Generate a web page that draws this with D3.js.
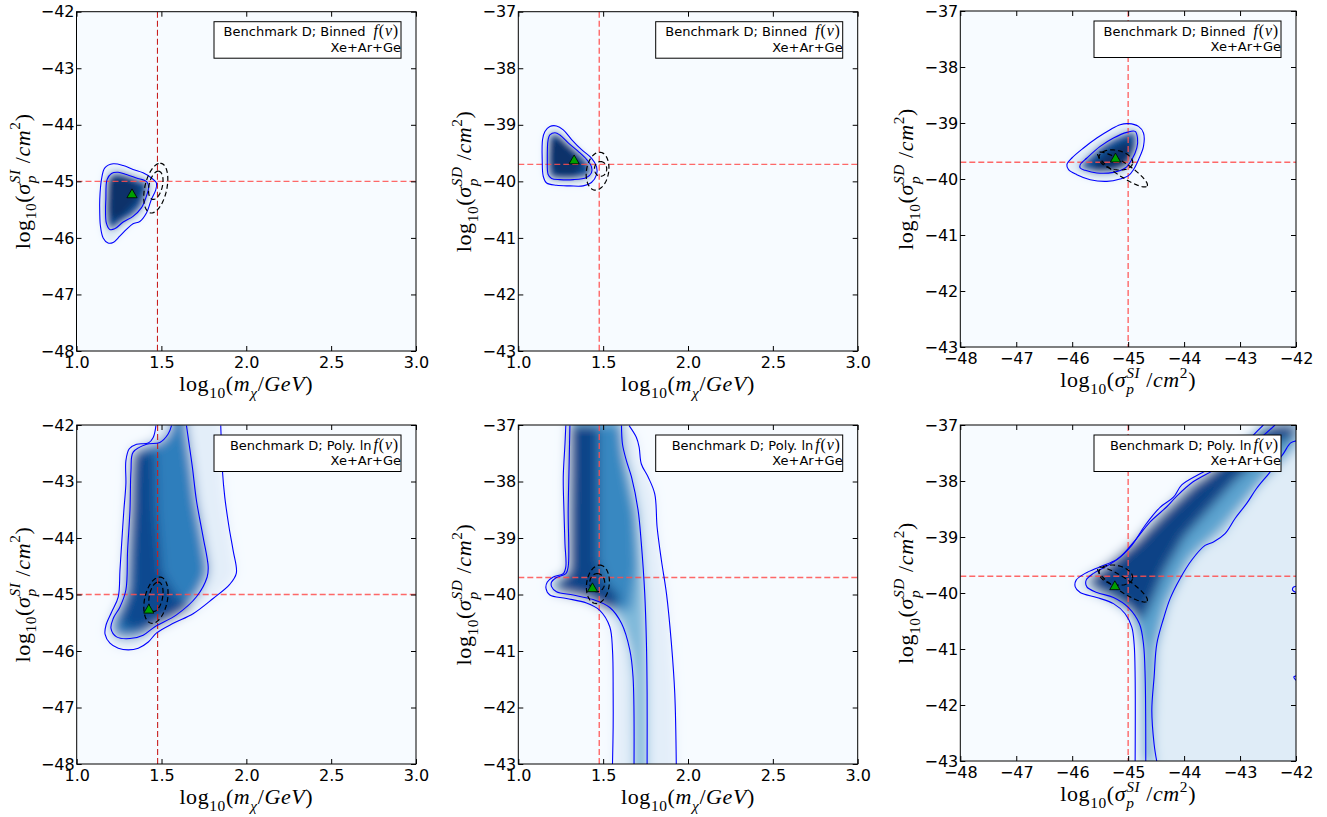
<!DOCTYPE html>
<html><head><meta charset="utf-8">
<script src="https://cdn.jsdelivr.net/npm/d3@7"></script>
<style>body{margin:0;background:#fff}svg{display:block}</style>
</head><body>
<svg id="c" width="1327" height="817"></svg>
<script>
// ---------------- data ----------------
const massTicks = [1.0, 1.5, 2.0, 2.5, 3.0];
const siTicks = [-48, -47, -46, -45, -44, -43, -42];
const sdTicks = [-43, -42, -41, -40, -39, -38, -37];
const trueMass = 1.477, trueSI = -45, trueSD = -39.7;
const legendTitles = ["Benchmark D; Binned", "Benchmark D; Poly. ln"];
const legendTargets = "Xe+Ar+Ge";

// Panel 1 (mass vs SI, binned)
const p1Outer = [[1.137,-45.32],[1.147,-44.97],[1.167,-44.76],[1.216,-44.69],[1.275,-44.72],[1.333,-44.79],[1.392,-44.85],[1.441,-44.94],[1.471,-45.03],[1.467,-45.15],[1.441,-45.32],[1.412,-45.56],[1.373,-45.71],[1.333,-45.75],[1.294,-45.85],[1.255,-45.97],[1.216,-46.08],[1.186,-46.09],[1.157,-46.0],[1.141,-45.79],[1.137,-45.56]];
const p1Inner = [[1.173,-45.32],[1.18,-44.97],[1.206,-44.86],[1.245,-44.84],[1.294,-44.88],[1.353,-44.94],[1.412,-45.0],[1.425,-45.09],[1.412,-45.26],[1.382,-45.47],[1.333,-45.62],[1.275,-45.72],[1.225,-45.84],[1.196,-45.85],[1.176,-45.74],[1.171,-45.5]];
const p1Core = [[1.19,-44.95],[1.3,-44.93],[1.38,-45.1],[1.36,-45.35],[1.28,-45.6],[1.21,-45.72],[1.19,-45.5]];
const p1Ellipses = [[1.467,-45.12,0.026,0.44,0.066,0],[1.467,-45.07,0.015,0.25,0.04,0]];
const p1Best = [1.327,-45.22];

// Panel 2 (mass vs SD, binned)
const p2Outer = [[1.143,-39.26],[1.157,-39.12],[1.186,-39.03],[1.225,-39.02],[1.265,-39.09],[1.314,-39.26],[1.373,-39.44],[1.431,-39.59],[1.461,-39.74],[1.461,-39.88],[1.431,-40.02],[1.382,-40.08],[1.304,-40.08],[1.225,-40.07],[1.167,-40.03],[1.147,-39.91],[1.141,-39.62]];
const p2Inner = [[1.176,-39.26],[1.186,-39.18],[1.216,-39.14],[1.245,-39.18],[1.294,-39.32],[1.353,-39.47],[1.402,-39.61],[1.431,-39.74],[1.431,-39.85],[1.402,-39.93],[1.324,-39.97],[1.245,-39.97],[1.196,-39.95],[1.176,-39.88],[1.171,-39.62]];
const p2Core = [[1.19,-39.28],[1.24,-39.24],[1.33,-39.5],[1.39,-39.75],[1.33,-39.9],[1.22,-39.9],[1.19,-39.7]];
const p2Ellipses = [[1.467,-39.82,0.012,0.335,0.066,0],[1.485,-39.78,0.0,0.13,0.036,0]];
const p2Best = [1.329,-39.62];

// Panel 3 (SI vs SD, binned)
const p3Outer = [[-46.095,-39.744],[-46.006,-39.625],[-45.798,-39.446],[-45.56,-39.268],[-45.321,-39.119],[-45.143,-39.03],[-44.994,-39.012],[-44.815,-39.06],[-44.726,-39.179],[-44.726,-39.417],[-44.815,-39.655],[-44.905,-39.833],[-44.994,-39.94],[-45.143,-40.0],[-45.381,-40.042],[-45.679,-40.012],[-45.917,-39.923],[-46.065,-39.833]];
const p3Inner = [[-45.857,-39.744],[-45.738,-39.625],[-45.5,-39.417],[-45.262,-39.268],[-45.024,-39.167],[-44.875,-39.149],[-44.833,-39.268],[-44.845,-39.446],[-44.935,-39.655],[-45.054,-39.804],[-45.262,-39.881],[-45.56,-39.893],[-45.768,-39.845],[-45.857,-39.804]];
const p3Core = [[-45.65,-39.75],[-45.3,-39.45],[-45.0,-39.3],[-44.92,-39.4],[-45.0,-39.7],[-45.25,-39.83],[-45.6,-39.83]];
const p3Ellipses = [[-45.1,-39.83,0.44,-0.295,0.067,0.1],[-45.22,-39.66,0.3,-0.06,0.03,0.17]];
const p3Best = [-45.226,-39.625];

// Panel 4 (mass vs SI, poly ln)
const p4Outer = [[1.467,-42.01],[1.451,-42.22],[1.422,-42.32],[1.353,-42.34],[1.31,-42.42],[1.29,-42.63],[1.29,-43.04],[1.278,-43.51],[1.265,-44.1],[1.255,-44.57],[1.245,-45.04],[1.206,-45.31],[1.173,-45.54],[1.167,-45.7],[1.196,-45.86],[1.245,-45.95],[1.304,-45.98],[1.363,-45.95],[1.422,-45.84],[1.471,-45.68],[1.569,-45.51],[1.686,-45.34],[1.804,-45.07],[1.902,-44.82],[1.941,-44.62],[1.922,-44.22],[1.898,-43.81],[1.873,-43.28],[1.859,-42.81],[1.853,-42.34],[1.849,-42.01]];
const p4Inner = [[1.559,-42.01],[1.539,-42.16],[1.49,-42.31],[1.412,-42.34],[1.333,-42.48],[1.32,-42.81],[1.314,-43.51],[1.3,-44.22],[1.29,-44.92],[1.255,-45.22],[1.216,-45.42],[1.202,-45.6],[1.235,-45.75],[1.314,-45.78],[1.392,-45.72],[1.461,-45.57],[1.588,-45.36],[1.706,-45.04],[1.769,-44.69],[1.775,-44.51],[1.745,-43.98],[1.706,-43.34],[1.682,-42.75],[1.657,-42.22],[1.647,-42.01]];
const p4Core = [[1.33,-42.5],[1.46,-42.45],[1.47,-43.5],[1.5,-44.6],[1.58,-45.0],[1.68,-45.22],[1.55,-45.45],[1.4,-45.62],[1.28,-45.6],[1.26,-45.4],[1.32,-44.9],[1.32,-43.5]];
const p4Ellipses = [[1.467,-45.1,0.022,0.41,0.068,0],[1.467,-45.04,0.013,0.26,0.04,0]];
const p4Best = [1.425,-45.26];

// Panel 5 (mass vs SD, poly ln)
const p5OuterL = [[1.28,-37.01],[1.275,-37.34],[1.265,-37.92],[1.269,-38.51],[1.275,-39.1],[1.28,-39.51],[1.265,-39.63],[1.206,-39.69],[1.171,-39.78],[1.163,-39.89],[1.186,-40.01],[1.284,-40.07],[1.402,-40.15],[1.48,-40.28],[1.539,-40.57],[1.555,-40.98],[1.559,-41.75],[1.559,-42.34],[1.555,-43.01]];
const p5OuterR = [[1.653,-37.01],[1.696,-37.22],[1.712,-37.39],[1.725,-37.69],[1.765,-37.92],[1.804,-38.22],[1.818,-38.81],[1.843,-39.39],[1.873,-39.98],[1.902,-40.86],[1.922,-41.75],[1.931,-43.01]];
const p5InnerL = [[1.304,-37.01],[1.3,-37.63],[1.294,-38.51],[1.294,-39.51],[1.28,-39.63],[1.225,-39.7],[1.196,-39.78],[1.196,-39.86],[1.225,-39.95],[1.324,-40.01],[1.441,-40.09],[1.539,-40.23],[1.608,-40.51],[1.657,-40.98],[1.676,-41.45],[1.682,-43.01]];
const p5InnerR = [[1.608,-37.01],[1.614,-37.34],[1.637,-37.63],[1.667,-37.92],[1.706,-38.51],[1.725,-39.1],[1.745,-39.98],[1.755,-40.86],[1.759,-41.75],[1.759,-43.01]];
const p5Mid = [[1.3,-37],[1.61,-37],[1.64,-37.9],[1.69,-38.6],[1.7,-39.5],[1.66,-40.3],[1.5,-40.2],[1.3,-39.7]];
const p5Core = [[1.31,-37],[1.47,-37],[1.47,-39.4],[1.52,-39.8],[1.6,-40.05],[1.55,-40.3],[1.4,-40.06],[1.24,-39.95],[1.22,-39.8],[1.3,-39.6]];
const p5Ellipses = [[1.469,-39.82,0.01,0.34,0.067,0],[1.465,-39.79,0.0,0.16,0.044,0]];
const p5Best = [1.437,-39.88];

// Panel 6 (SI vs SD, poly ln)
const p6OuterL = [[-42.583,-37.0],[-42.762,-37.18],[-43.0,-37.42],[-43.357,-37.69],[-43.714,-37.87],[-44.042,-38.07],[-44.19,-38.29],[-44.429,-38.47],[-44.696,-38.79],[-44.935,-39.15],[-45.202,-39.4],[-45.5,-39.53],[-45.768,-39.65],[-45.929,-39.77],[-45.946,-39.89],[-45.857,-39.99],[-45.56,-40.08],[-45.262,-40.19],[-45.054,-40.37],[-44.935,-40.61],[-44.893,-40.91],[-44.875,-41.5],[-44.875,-43.01]];
const p6InnerL = [[-42.375,-37.0],[-42.643,-37.24],[-43.0,-37.51],[-43.476,-37.81],[-43.833,-38.01],[-44.131,-38.27],[-44.31,-38.46],[-44.607,-38.73],[-44.875,-39.06],[-45.143,-39.36],[-45.381,-39.52],[-45.619,-39.65],[-45.75,-39.77],[-45.738,-39.89],[-45.56,-39.99],[-45.262,-40.08],[-44.994,-40.26],[-44.798,-40.55],[-44.726,-40.91],[-44.696,-41.5],[-44.685,-43.01]];
const p6InnerR = [[-44.488,-43.01],[-44.536,-42.7],[-44.577,-42.1],[-44.536,-41.5],[-44.488,-40.91],[-44.369,-40.46],[-44.25,-40.1],[-44.071,-39.74],[-43.863,-39.41],[-43.625,-39.15],[-43.476,-39.09],[-43.268,-38.94],[-43.089,-38.67],[-42.881,-38.4],[-42.702,-38.13],[-42.464,-37.84],[-42.226,-37.51],[-42.095,-37.32],[-41.988,-37.28]];
const p6Bits = [[[-42.0,-39.88],[-42.05,-39.9],[-42.06,-39.95],[-42.0,-39.99]],[[-42.0,-41.48],[-42.04,-41.5],[-42.0,-41.56]]];
const p6Mid = [[-45.7,-39.75],[-44.8,-39.0],[-43.3,-37.6],[-42.6,-37],[-42,-37],[-42,-37.4],[-42.6,-38.0],[-43.3,-38.8],[-43.9,-39.4],[-44.3,-40.2],[-44.5,-41],[-44.58,-43],[-44.72,-43],[-44.75,-41],[-44.95,-40.35],[-45.6,-39.95]];
const p6Ridge = [[-45.7,-39.75],[-45.3,-39.45],[-44.85,-39.06],[-44.3,-38.5],[-43.8,-38.03],[-43.0,-37.5],[-42.4,-37.0],[-42.0,-37.0],[-42.0,-37.2],[-42.3,-37.3],[-43.1,-38.0],[-44.0,-39.0],[-44.35,-39.6],[-44.6,-40.2],[-44.75,-40.5],[-45.0,-40.25],[-45.3,-40.05],[-45.65,-39.9]];
const p6Ellipses = [[-45.1,-39.85,0.44,-0.295,0.067,0.1],[-45.22,-39.68,0.3,-0.06,0.03,0.17]];
const p6Best = [-45.238,-39.87];

// ---------------- helpers ----------------
function padPoint(pt, xd, yd) {
  const xr = xd[1]-xd[0], yr = yd[1]-yd[0];
  const d = [Math.abs(pt[0]-xd[0])/xr, Math.abs(pt[0]-xd[1])/xr, Math.abs(pt[1]-yd[0])/yr, Math.abs(pt[1]-yd[1])/yr];
  const i = d.indexOf(Math.min(...d));
  if (d[i] > 0.03) return null;
  const p = pt.slice();
  if (i===0) p[0] = xd[0]-0.15*xr; if (i===1) p[0] = xd[1]+0.15*xr;
  if (i===2) p[1] = yd[0]-0.15*yr; if (i===3) p[1] = yd[1]+0.15*yr;
  return p;
}
function padBranch(pts, xd, yd) {
  const a = padPoint(pts[0], xd, yd), b = padPoint(pts[pts.length-1], xd, yd);
  return [...(a?[a]:[]), ...pts, ...(b?[b]:[])];
}
function corner(xd, yd, cx, cy) {
  const xr = xd[1]-xd[0], yr = yd[1]-yd[0];
  return [cx ? xd[1]+0.15*xr : xd[0]-0.15*xr, cy ? yd[1]+0.15*yr : yd[0]-0.15*yr];
}
const rev = a => a.slice().reverse();
const fmt1 = d3.format(".1f"), fmtInt = d3.format("d");

const xMassLabel = [["log","r","n"],["10","r","sub"],["(","r","n"],["m","i","n"],["χ","i","sub"],["/","r","n"],["GeV","i","n"],[")","r","n"]];
const xSILabel = [["log","r","n"],["10","r","sub"],["(","r","n"],["σ","i","n"],["p","i","sub"],["SI","i","supstack"],[" /","r","n"],["cm","i","n"],["2","r","sup"],[")","r","n"]];
const ySILabel = xSILabel;
const ySDLabel = [["log","r","n"],["10","r","sub"],["(","r","n"],["σ","i","n"],["p","i","sub"],["SD","i","supstack"],[" /","r","n"],["cm","i","n"],["2","r","sup"],[")","r","n"]];

const mD = [1,3], siD = [-48,-42], sdD = [-43,-37];
const panels = [
  {box:[76.5,11.7,416,351], xDom:mD, yDom:siD, xTicks:massTicks, yTicks:siTicks, xFmt:fmt1, xLab:xMassLabel, yLab:ySILabel,
   v:trueMass, h:trueSI, leg:0, blur:3.2, vDark:true,
   fills:[[p1Outer,0.12],[p1Inner,0.85],[p1Core,1.0]],
   lines:[[p1Outer,true],[p1Inner,true]], ell:p1Ellipses, best:p1Best},
  {box:[518.3,11.7,857.7,351], xDom:mD, yDom:sdD, xTicks:massTicks, yTicks:sdTicks, xFmt:fmt1, xLab:xMassLabel, yLab:ySDLabel,
   v:trueMass, h:trueSD, leg:0, blur:3.2, vDark:false,
   fills:[[p2Outer,0.12],[p2Inner,0.85],[p2Core,1.0]],
   lines:[[p2Outer,true],[p2Inner,true]], ell:p2Ellipses, best:p2Best},
  {box:[960.3,11,1296,347], xDom:siD, yDom:sdD, xTicks:siTicks, yTicks:sdTicks, xFmt:fmtInt, xLab:xSILabel, yLab:ySDLabel,
   v:trueSI, h:trueSD, leg:0, blur:3.2, vDark:false,
   fills:[[p3Outer,0.12],[p3Inner,0.85],[p3Core,1.0]],
   lines:[[p3Outer,true],[p3Inner,true]], ell:p3Ellipses, best:p3Best},
  {box:[76.7,425,416,764], xDom:mD, yDom:siD, xTicks:massTicks, yTicks:siTicks, xFmt:fmt1, xLab:xMassLabel, yLab:ySILabel,
   v:trueMass, h:trueSI, leg:1, blur:5.5, vDark:true,
   fills:[[padBranch(p4Outer,mD,siD),0.1],[padBranch(p4Inner,mD,siD),0.7],[p4Core,0.9]],
   lines:[[p4Outer,false],[p4Inner,false]], ell:p4Ellipses, best:p4Best},
  {box:[518.3,425,857.7,764], xDom:mD, yDom:sdD, xTicks:massTicks, yTicks:sdTicks, xFmt:fmt1, xLab:xMassLabel, yLab:ySDLabel,
   v:trueMass, h:trueSD, leg:1, blur:5.5, vDark:false,
   fills:[[[...padBranch(p5OuterL,mD,sdD), ...padBranch(rev(p5OuterR),mD,sdD)],0.1],
          [[...padBranch(p5InnerL,mD,sdD), ...padBranch(rev(p5InnerR),mD,sdD)],0.45],
          [p5Mid,0.66],[p5Core,0.92]],
   lines:[[p5OuterL,false],[p5OuterR,false],[p5InnerL,false],[p5InnerR,false]], ell:p5Ellipses, best:p5Best},
  {box:[960.3,425,1296,761], xDom:siD, yDom:sdD, xTicks:siTicks, yTicks:sdTicks, xFmt:fmtInt, xLab:xSILabel, yLab:ySDLabel,
   v:trueSI, h:trueSD, leg:1, blur:5.5, vDark:false,
   fills:[[[...padBranch(p6OuterL,siD,sdD), corner(siD,sdD,1,0), corner(siD,sdD,1,1)],0.12],
          [[...padBranch(p6InnerL,siD,sdD), ...padBranch(p6InnerR,siD,sdD), corner(siD,sdD,1,1)],0.3],
          [p6Mid,0.55],[p6Ridge,0.93]],
   lines:[[p6OuterL,false],[p6InnerL,false],[p6InnerR,false],[p6Bits[0],false],[p6Bits[1],false]], ell:p6Ellipses, best:p6Best}
];

// ---------------- drawing ----------------
const svg = d3.select('#c');
const defs = svg.append('defs');
const blues = d3.interpolateBlues;
const SANS = "'DejaVu Sans', sans-serif";
const SERIF = "'Liberation Serif', 'DejaVu Serif', serif";

function mathText(sel, parts, size) {
  const sub = size*0.7;
  let cur = 0; let lastW = 0;
  parts.forEach(([t, st, kind]) => {
    const ts = sel.append('tspan').text(t).attr('font-style', st==='i' ? 'italic' : 'normal');
    let target = 0, fs = size;
    if (kind === 'sub') { target = size*0.3; fs = sub; }
    if (kind === 'sup' || kind === 'supstack') { target = -size*0.42; fs = sub; }
    ts.attr('font-size', fs).attr('dy', target - cur);
    if (kind === 'supstack') ts.attr('dx', -lastW);
    cur = target;
    lastW = ts.node().getComputedTextLength();
  });
}

panels.forEach((P, i) => {
  const [L,T,R,B] = P.box;
  const x = d3.scaleLinear().domain(P.xDom).range([L,R]);
  const y = d3.scaleLinear().domain(P.yDom).range([B,T]);
  const g = svg.append('g');
  defs.append('clipPath').attr('id','clip'+i).append('rect')
    .attr('x',L).attr('y',T).attr('width',R-L).attr('height',B-T);
  defs.append('filter').attr('id','blur'+i).attr('filterUnits','userSpaceOnUse')
    .attr('x',L-60).attr('y',T-60).attr('width',R-L+120).attr('height',B-T+120)
    .append('feGaussianBlur').attr('stdDeviation',P.blur);

  const cg = g.append('g').attr('clip-path',`url(#clip${i})`);
  const dg = cg.append('g').attr('filter',`url(#blur${i})`);
  dg.append('rect').attr('x',L-50).attr('y',T-50).attr('width',R-L+100).attr('height',B-T+100).attr('fill',blues(0));
  const poly = d3.line().x(d=>x(d[0])).y(d=>y(d[1])).curve(d3.curveLinearClosed);
  P.fills.forEach(([pts,lv]) => dg.append('path').attr('d',poly(pts)).attr('fill',blues(lv)));

  // true-value reference lines
  cg.append('line').attr('x1',x(P.v)).attr('x2',x(P.v)).attr('y1',T).attr('y2',B)
    .attr('stroke', P.vDark ? '#c81e1e' : '#ff4d4d').attr('stroke-width', P.vDark ? 1.1 : 1.4)
    .attr('stroke-dasharray','6,3').attr('stroke-opacity', P.vDark?1:0.85);
  cg.append('line').attr('x1',L).attr('x2',R).attr('y1',y(P.h)).attr('y2',y(P.h))
    .attr('stroke','#ff4d4d').attr('stroke-width',1.4).attr('stroke-dasharray','6,3').attr('stroke-opacity',0.85);

  // credible-region contours
  const lc = d3.line().x(d=>x(d[0])).y(d=>y(d[1]));
  P.lines.forEach(([pts, closed]) => {
    cg.append('path').attr('d', lc.curve(closed ? d3.curveCatmullRomClosed : d3.curveCatmullRom)(pts))
      .attr('fill','none').attr('stroke','#0000ff').attr('stroke-width',1.1);
  });

  // dashed comparison ellipses
  const ts = d3.range(0, 73).map(k => k/72*2*Math.PI);
  P.ell.forEach(([cx,cy,ax,ay,bx,by]) => {
    const pts = ts.map(t => [cx + ax*Math.cos(t) + bx*Math.sin(t), cy + ay*Math.cos(t) + by*Math.sin(t)]);
    cg.append('path').attr('d', lc.curve(d3.curveLinear)(pts)).attr('fill','none')
      .attr('stroke','#000').attr('stroke-width',1.2).attr('stroke-dasharray','5,3');
  });

  // best fit
  g.append('path').attr('d', d3.symbol(d3.symbolTriangle, 45)())
    .attr('transform',`translate(${x(P.best[0])},${y(P.best[1])+1})`)
    .attr('fill','#00a000').attr('stroke','#000').attr('stroke-width',0.8);

  // axes
  const styleAxis = a => { a.select('.domain').remove(); a.selectAll('line').attr('stroke','#000');
    a.selectAll('text').attr('font-family',SANS).attr('font-size',16).attr('fill','#000'); };
  g.append('g').attr('transform',`translate(0,${B})`)
    .call(d3.axisBottom(x).tickValues(P.xTicks).tickFormat(P.xFmt).tickSizeInner(-5).tickSizeOuter(0).tickPadding(5.5)).call(styleAxis);
  g.append('g').attr('transform',`translate(0,${T})`)
    .call(d3.axisTop(x).tickValues(P.xTicks).tickFormat('').tickSizeInner(-5).tickSizeOuter(0)).call(styleAxis);
  g.append('g').attr('transform',`translate(${L},0)`)
    .call(d3.axisLeft(y).tickValues(P.yTicks).tickFormat(fmtInt).tickSizeInner(-5).tickSizeOuter(0).tickPadding(2)).call(styleAxis);
  g.append('g').attr('transform',`translate(${R},0)`)
    .call(d3.axisRight(y).tickValues(P.yTicks).tickFormat('').tickSizeInner(-5).tickSizeOuter(0)).call(styleAxis);
  g.append('rect').attr('x',L).attr('y',T).attr('width',R-L).attr('height',B-T)
    .attr('fill','none').attr('stroke','#000').attr('stroke-width',1);

  // axis labels
  const xl = g.append('text').attr('x',(L+R)/2).attr('y',B+40).attr('text-anchor','middle')
    .attr('font-family',SERIF).attr('font-size',22).attr('letter-spacing',0.6).attr('fill','#000');
  mathText(xl, P.xLab, 22);
  const yl = g.append('text').attr('transform',`translate(${L-47},${(T+B)/2}) rotate(-90)`).attr('text-anchor','middle')
    .attr('font-family',SERIF).attr('font-size',22).attr('letter-spacing',0.6).attr('fill','#000');
  mathText(yl, P.yLab, 22);

  // legend box
  const bw = 187, bh = 36.5, bx = R-15-bw, by = T+10;
  g.append('rect').attr('x',bx).attr('y',by).attr('width',bw).attr('height',bh)
    .attr('fill','#fff').attr('stroke','#000').attr('stroke-width',1);
  const t1 = g.append('text').attr('x',bx+bw-2).attr('y',by+14.5).attr('text-anchor','end').attr('fill','#000');
  t1.append('tspan').attr('font-family',SANS).attr('font-size',13).text(legendTitles[P.leg]);
  const mf = [["f","italic"],["(","normal"],["v","italic"],[")","normal"]];
  mf.forEach(([c,st],k) => t1.append('tspan').attr('font-family',SERIF).attr('font-size',16).attr('font-style',st)
    .attr('letter-spacing',0.8).attr('dx', k===0 ? (P.leg===0 ? 8 : 2) : null).text(c));
  g.append('text').attr('x',bx+bw).attr('y',by+30).attr('text-anchor','end')
    .attr('font-family',SANS).attr('font-size',13).attr('fill','#000').text(legendTargets);
});
</script>
</body></html>
